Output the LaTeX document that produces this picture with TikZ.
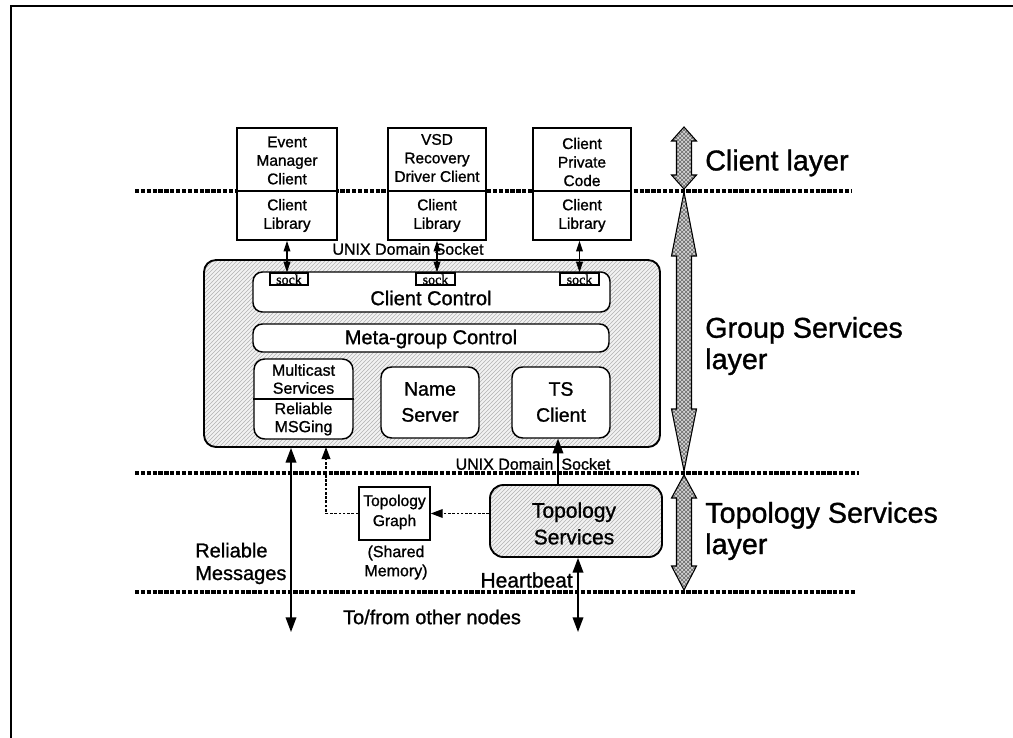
\documentclass[tikz,border=0pt]{standalone}
\usepackage{fontspec}
\setmainfont{Liberation Sans}[FakeBold=1.1]
\newfontfamily\sockfont{Liberation Serif}[FakeBold=1.2]
\usetikzlibrary{arrows.meta,fit,patterns}

% double-headed wide arrow marking a layer: x, top, bottom, head length top, head length bottom
\newcommand\layerspan[5]{%
  \draw[spanarrow] (#1,#2) -- (#1+12.5,#2+#4) -- (#1+7.5,#2+#4) -- (#1+7.5,#3-#5)
    -- (#1+12.5,#3-#5) -- (#1,#3) -- (#1-12.5,#3-#5) -- (#1-7.5,#3-#5)
    -- (#1-7.5,#2+#4) -- (#1-12.5,#2+#4) -- cycle;}

\begin{document}
\begin{tikzpicture}[x=0.75pt,y=-0.75pt,
  box/.style={draw, line width=1.1pt, inner sep=0pt, fill=white},
  rbox/.style={box, rounded corners=7pt},
  hatch/.style={preaction={fill=gray!10}, pattern=north east lines, pattern color=gray!60},
  txt/.style={inner sep=0pt, align=center},
  layerline/.style={line width=2.5pt, dash pattern=on 3.2pt off 1.2pt},
  spanarrow/.style={draw, line width=0.8pt, preaction={fill=gray!35}, pattern=crosshatch, pattern color=gray!80!black},
  conn/.style={line width=1.1pt, {Triangle[width=8pt,length=11pt]}-{Triangle[width=8pt,length=11pt]}},
  upconn/.style={line width=1.1pt, -{Triangle[width=8pt,length=11pt]}},
  smallconn/.style={line width=1pt, {Triangle[width=5pt,length=8pt]}-{Triangle[width=5pt,length=8pt]}},
  dotconn/.style={line width=1.1pt, dash pattern=on 2pt off 1.2pt},
  dothead/.style={-{Triangle[width=6.5pt,length=9pt]}},
  sock/.style={draw, line width=0.9pt, inner sep=0pt, fill=white},
  clientfont/.style={font=\fontsize{11.6}{13.9}\selectfont},
  layerfont/.style={font=\fontsize{21.5}{23.5}\selectfont},
]
\useasboundingbox (0,0) rectangle (1013,738);

% page frame
\draw[line width=2pt] (11,738) -- (11,6) -- (1013,6);

% layer boundaries
\draw[layerline] (135,191) -- (852,191);
\draw[layerline] (135,473) -- (859,473);
\draw[layerline] (135,592) -- (855,592);

% layer extents
\layerspan{684}{127}{189}{14}{14}
\layerspan{684}{192}{471}{64}{62}
\layerspan{684}{475}{590}{23}{24}

\node[txt, layerfont, anchor=west] (lcl) at (705,163) {Client layer};
\node[txt, layerfont, anchor=west, align=left] (lgs) at (705,346) {Group Services\\layer};
\node[txt, layerfont, anchor=west, align=left] (lts) at (705,531) {Topology Services\\layer};

% clients
\node[box, fit={(237,128) (337,240)}] (em) {};
\node[box, fit={(388,128) (486,240)}] (vsd) {};
\node[box, fit={(533,128) (631,240)}] (cp) {};
\draw[line width=1.1pt] (em.west |- 0,191) -- (em.east |- 0,191);
\draw[line width=1.1pt] (vsd.west |- 0,191) -- (vsd.east |- 0,191);
\draw[line width=1.1pt] (cp.west |- 0,191) -- (cp.east |- 0,191);
\node[txt, clientfont] (emt) at (287,160.5) {Event\\Manager\\Client};
\node[txt, clientfont] (eml) at (287,215.5) {Client\\Library};
\node[txt, clientfont] (vsdt) at (437,158) {VSD\\Recovery\\Driver Client};
\node[txt, clientfont] (vsdl) at (437,215.5) {Client\\Library};
\node[txt, clientfont] (cpt) at (582,162) {Client\\Private\\Code};
\node[txt, clientfont] (cpl) at (582,215.5) {Client\\Library};

\node[txt, font=\fontsize{12}{14}\selectfont] (uds1) at (408,249) {UNIX Domain Socket};

% Group Services daemon
\node[draw, line width=1.4pt, inner sep=0pt, rounded corners=9pt, hatch, fit={(204,260) (660,447)}] (gs) {};

\node[rbox, fit={(253,272) (610,312)}] (cc) {};
\node[txt, font=\fontsize{15}{18}\selectfont] (cct) at (431,298) {Client Control};
\node[sock, fit={(270,273) (308,285)}] (s1) {};
\node[sock, fit={(416,273) (455,285)}] (s2) {};
\node[sock, fit={(560,273) (599,285)}] (s3) {};
\foreach \s in {s1,s2,s3}
  \node[inner sep=0pt, anchor=base, font=\sockfont\fontsize{10.5}{10.5}\selectfont] at ([yshift=1pt]\s.south) {sock};

\node[rbox, fit={(253,324) (609,352)}] (mg) {};
\node[txt, font=\fontsize{15}{18}\selectfont] (mgt) at (431,339) {Meta-group Control};

\node[rbox, rounded corners=8pt, fit={(254,359) (353,439)}] (mc) {};
\draw[line width=1.1pt] (mc.west |- 0,399) -- (mc.east |- 0,399);
\node[txt, font=\fontsize{12}{13.5}\selectfont] (mct) at (303.5,379) {Multicast\\Services};
\node[txt, font=\fontsize{12}{13.5}\selectfont] (rmt) at (303.5,419) {Reliable\\MSGing};

\node[rbox, rounded corners=8pt, fit={(381,367) (479,438)}] (ns) {};
\node[txt, font=\fontsize{14.6}{19.5}\selectfont] (nst) at (430,402) {Name\\Server};
\node[rbox, rounded corners=8pt, fit={(512,367) (610,438)}] (tc) {};
\node[txt, font=\fontsize{14.6}{19.5}\selectfont] (tct) at (561,402) {TS\\Client};

% client library <-> socket connections
\draw[smallconn] (em.south) -- (em.south |- s1.north);
\draw[smallconn] (vsd.south) -- (vsd.south |- s2.north);
\draw[smallconn] (s3.north |- cp.south) -- (s3.north);

% Topology Services
\node[draw, line width=1.4pt, inner sep=0pt, rounded corners=10pt, hatch, fit={(490,485) (662,557)}] (tsv) {};
\node[txt, font=\fontsize{15.75}{20}\selectfont] (tsvt) at (574,523.5) {Topology\\Services};

\node[box, fit={(359,487) (430,540)}] (tg) {};
\node[txt, font=\fontsize{11.7}{15}\selectfont] (tgt) at (394.5,512) {Topology\\Graph};
\node[txt, font=\fontsize{12}{14.3}\selectfont] (shm) at (396,562.5) {(Shared\\Memory)};

\node[txt, font=\fontsize{12}{14}\selectfont] (uds2) at (533,464) {UNIX Domain \hphantom{i}Socket};

% connections
\draw[upconn] (tsv.north -| 558,0) -- (tc.south -| 558,0);
\draw[dotconn, dothead] (tsv.west |- tg.east) -- (tg.east);
\coordinate (tgup) at (326,447);
\draw[dotconn, dothead] (tg.west) -| (tgup);

\coordinate (rmend) at (291,632);
\draw[conn] (gs.south -| rmend) -- (rmend);
\coordinate (hbend) at (578,632);
\draw[conn] (tsv.south -| hbend) -- (hbend);

\node[txt, font=\fontsize{15}{17}\selectfont, anchor=west, align=left] (rml) at (195,563.5) {Reliable\\Messages};
\node[txt, font=\fontsize{15.75}{18}\selectfont, anchor=east] (hbl) at (573,580) {Heartbeat};
\node[txt, font=\fontsize{15}{18}\selectfont] (oth) at (432,617) {To/from other nodes};
\end{tikzpicture}
\end{document}
